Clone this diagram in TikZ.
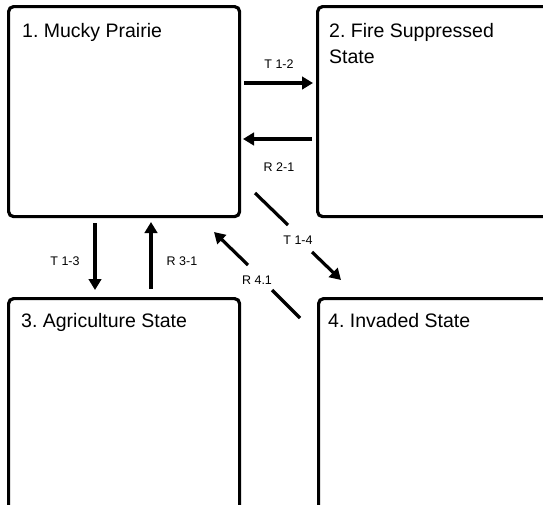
\documentclass[tikz,border=0pt]{standalone}
\usepackage{fontspec}
\setmainfont{Liberation Sans}
\usetikzlibrary{arrows.meta}
\begin{document}
\frenchspacing
\begin{tikzpicture}[x=1pt,y=-1pt,
  statebox/.style={draw=black,line width=3.2pt,rounded corners=5pt,fill=none,inner sep=0pt,anchor=north west},
  title/.style={anchor=base west,inner sep=0pt,font=\fontsize{19.5}{26}\selectfont,align=left},
  lbl/.style={inner sep=0pt,font=\fontsize{12.5}{14}\selectfont},
  arr/.style={line width=3.2pt,-{Triangle[length=11pt,width=12.5pt]}},
  seg/.style={line width=3.2pt}]
\useasboundingbox (0,0) rectangle (543,504);
\clip (0,0) rectangle (543,504);
\fill[white] (0,0) rectangle (543,504);
% boxes
\node[statebox,minimum width=231pt,minimum height=210pt] (b1) at (7,5) {};
\node[statebox,minimum width=260pt,minimum height=210pt] (b2) at (316,5) {};
\node[statebox,minimum width=231pt,minimum height=240pt] (b3) at (7,297) {};
\node[statebox,minimum width=260pt,minimum height=240pt] (b4) at (317,297) {};
% titles
\node[title] (t1) at (22,37) {1. Mucky Prairie};
\node[title] (t2) at (329,63) {2. Fire Suppressed\\State};
\node[title] (t3) at (21,327) {3. Agriculture State};
\node[title] (t4) at (328,327) {4. Invaded State};
% coordinates
\coordinate (a12s) at (244,83);  \coordinate (a12e) at (313,83);
\coordinate (a21s) at (312,139); \coordinate (a21e) at (243,139);
\coordinate (a13s) at (95,223);  \coordinate (a13e) at (95,290);
\coordinate (a31s) at (151,289); \coordinate (a31e) at (151,222);
\coordinate (a14a) at (255,193); \coordinate (a14b) at (288,225);
\coordinate (a14c) at (312,252); \coordinate (a14d) at (341,280);
\coordinate (a41a) at (300,318); \coordinate (a41b) at (272,290);
\coordinate (a41c) at (248,265); \coordinate (a41d) at (214,232);
% arrows
\draw[arr] (a12s) -- (a12e);
\draw[arr] (a21s) -- (a21e);
\draw[arr] (a13s) -- (a13e);
\draw[arr] (a31s) -- (a31e);
\draw[seg] (a14a) -- (a14b);
\draw[arr] (a14c) -- (a14d);
\draw[seg] (a41a) -- (a41b);
\draw[arr] (a41c) -- (a41d);
% labels
\node[lbl] (l12) at (279,64) {T 1-2};
\node[lbl] (l21) at (279,167) {R 2-1};
\node[lbl] (l13) at (65,261) {T 1-3};
\node[lbl] (l31) at (182,261) {R 3-1};
\node[lbl] (l14) at (298,240) {T 1-4};
\node[lbl] (l41) at (257,280) {R 4.1};
\end{tikzpicture}
\end{document}
